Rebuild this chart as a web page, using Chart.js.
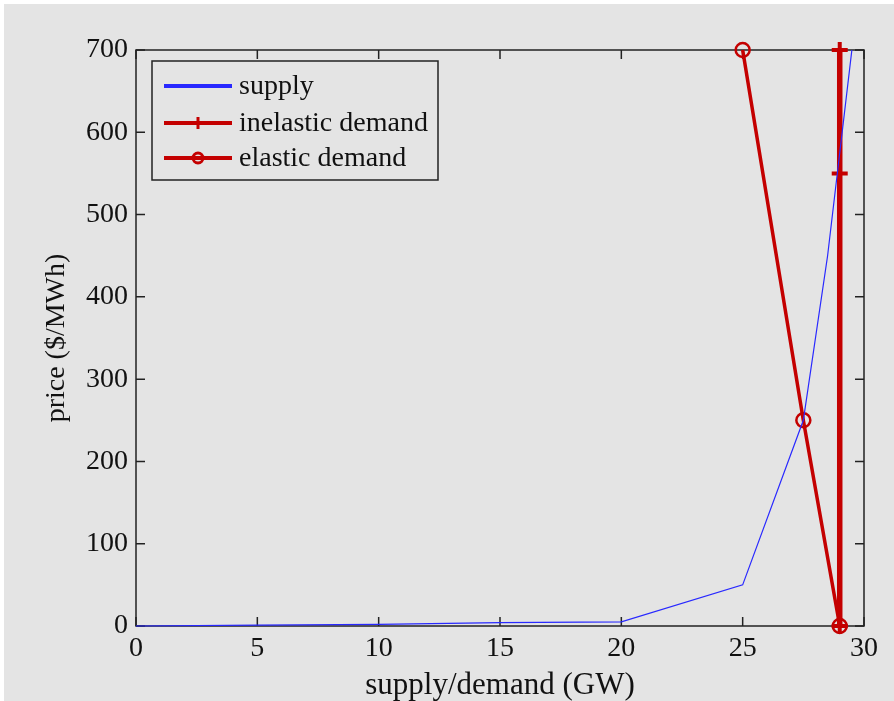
<!DOCTYPE html>
<html>
<head>
<meta charset="utf-8">
<title>supply and demand</title>
<script src="https://cdn.jsdelivr.net/npm/chart.js"></script>
<style>
  html, body { margin: 0; padding: 0; background: #fff; }
  #wrap { position: absolute; left: 4px; top: 4px; width: 890px; height: 697px; background: #e4e4e4; }
</style>
</head>
<body>
<div id="wrap"><canvas id="myChart" width="890" height="697"></canvas></div>
<script>
// values
const xTicks = [0, 5, 10, 15, 20, 25, 30];
const yTicks = [0, 100, 200, 300, 400, 500, 600, 700];

const supplyX = [0, 5, 10, 15, 20, 25, 27.5, 28.5, 29.5];
const supplyY = [0, 1, 2, 4, 5, 50, 250, 450, 700];

const inelasticX = [29, 29, 29];
const inelasticY = [0, 550, 700];

const elasticX = [25, 27.5, 29];
const elasticY = [700, 250, 0];

const seriesNames = ['supply', 'inelastic demand', 'elastic demand'];

const serif = 'Liberation Serif, Times New Roman, serif';
const red = '#c40000';
const ink = '#222';

function pts(xs, ys) {
    return xs.map((x, i) => ({ x: x, y: ys[i] }));
}

// matlab style box with inward ticks on all four sides
const boxPlugin = {
    id: 'box',
    beforeDatasetsDraw(chart) {
        const { ctx, chartArea: a, scales } = chart;
        const len = 9;
        ctx.save();
        ctx.strokeStyle = ink;
        ctx.lineWidth = 1.5;
        ctx.strokeRect(a.left, a.top, a.right - a.left, a.bottom - a.top);
        ctx.beginPath();
        xTicks.forEach(v => {
            const px = scales.x.getPixelForValue(v);
            ctx.moveTo(px, a.bottom); ctx.lineTo(px, a.bottom - len);
            ctx.moveTo(px, a.top); ctx.lineTo(px, a.top + len);
        });
        yTicks.forEach(v => {
            const py = scales.y.getPixelForValue(v);
            ctx.moveTo(a.left, py); ctx.lineTo(a.left + len, py);
            ctx.moveTo(a.right, py); ctx.lineTo(a.right - len, py);
        });
        ctx.stroke();
        ctx.restore();
    },
    afterDraw(chart) {
        // legend drawn like the matlab one: line sample with the marker in the middle
        const ctx = chart.ctx;
        const bx = 148, by = 57, bw = 286, bh = 119;
        ctx.save();
        ctx.fillStyle = '#e4e4e4';
        ctx.fillRect(bx, by, bw, bh);
        ctx.strokeStyle = ink;
        ctx.lineWidth = 1.5;
        ctx.strokeRect(bx, by, bw, bh);
        const rows = [82, 119, 154];
        chart.data.datasets.forEach((ds, i) => {
            const y = rows[i];
            const x1 = 160, x2 = 228, xm = (x1 + x2) / 2;
            ctx.strokeStyle = ds.borderColor;
            ctx.lineWidth = 4;
            ctx.beginPath();
            ctx.moveTo(x1, y); ctx.lineTo(x2, y);
            ctx.stroke();
            ctx.lineWidth = 3;
            if (ds.pointStyle === 'cross') {
                ctx.beginPath();
                ctx.moveTo(xm, y - 6); ctx.lineTo(xm, y + 6);
                ctx.stroke();
            } else if (ds.pointStyle === 'circle' && ds.pointRadius > 0) {
                ctx.beginPath();
                ctx.arc(xm, y, 5, 0, Math.PI * 2);
                ctx.stroke();
            }
            ctx.fillStyle = '#111';
            ctx.font = '28px ' + serif;
            ctx.textBaseline = 'middle';
            ctx.fillText(ds.label, 235, y + 1);
        });
        ctx.restore();
    }
};

const ctx = document.getElementById('myChart').getContext('2d');

const myChart = new Chart(ctx, {
    type: 'line',
    data: {
        datasets: [
            {
                label: seriesNames[0],
                data: pts(supplyX, supplyY),
                borderColor: 'rgb(40,40,255)',
                borderWidth: 1.2,
                pointRadius: 0,
                clip: false
            },
            {
                label: seriesNames[1],
                data: pts(inelasticX, inelasticY),
                borderColor: red,
                borderWidth: 5.5,
                pointStyle: 'cross',
                pointRadius: 8,
                pointBorderWidth: 4,
                pointBorderColor: red,
                clip: false
            },
            {
                label: seriesNames[2],
                data: pts(elasticX, elasticY),
                borderColor: red,
                borderWidth: 3.5,
                pointStyle: 'circle',
                pointRadius: 7,
                pointBorderWidth: 2.5,
                pointBorderColor: red,
                pointBackgroundColor: 'rgba(0,0,0,0)',
                clip: false
            }
        ]
    },
    options: {
        responsive: false,
        animation: false,
        layout: { padding: { left: 0, top: 46, right: 30, bottom: 0 } },
        plugins: {
            legend: { display: false },
            tooltip: { enabled: false }
        },
        scales: {
            x: {
                type: 'linear',
                min: 0,
                max: 30,
                afterBuildTicks: s => { s.ticks = xTicks.map(v => ({ value: v })); },
                afterFit: s => { s.height = 75; },
                grid: { display: false },
                border: { display: false },
                ticks: {
                    padding: -2,
                    maxRotation: 0,
                    color: '#111',
                    font: { family: serif, size: 28 }
                },
                title: {
                    display: true,
                    text: 'supply/demand (GW)',
                    color: '#111',
                    font: { family: serif, size: 31, lineHeight: 1 },
                    padding: { top: 0, bottom: 0 }
                }
            },
            y: {
                type: 'linear',
                min: 0,
                max: 700,
                afterBuildTicks: s => { s.ticks = yTicks.map(v => ({ value: v })); },
                afterFit: s => { s.width = 132; },
                grid: { display: false },
                border: { display: false },
                ticks: {
                    padding: 0,
                    color: '#111',
                    font: { family: serif, size: 28 }
                },
                title: {
                    display: true,
                    text: 'price ($/MWh)',
                    color: '#111',
                    font: { family: serif, size: 28, lineHeight: 1 },
                    padding: { top: 39, bottom: 0 }
                }
            }
        }
    },
    plugins: [boxPlugin]
});
</script>
</body>
</html>
